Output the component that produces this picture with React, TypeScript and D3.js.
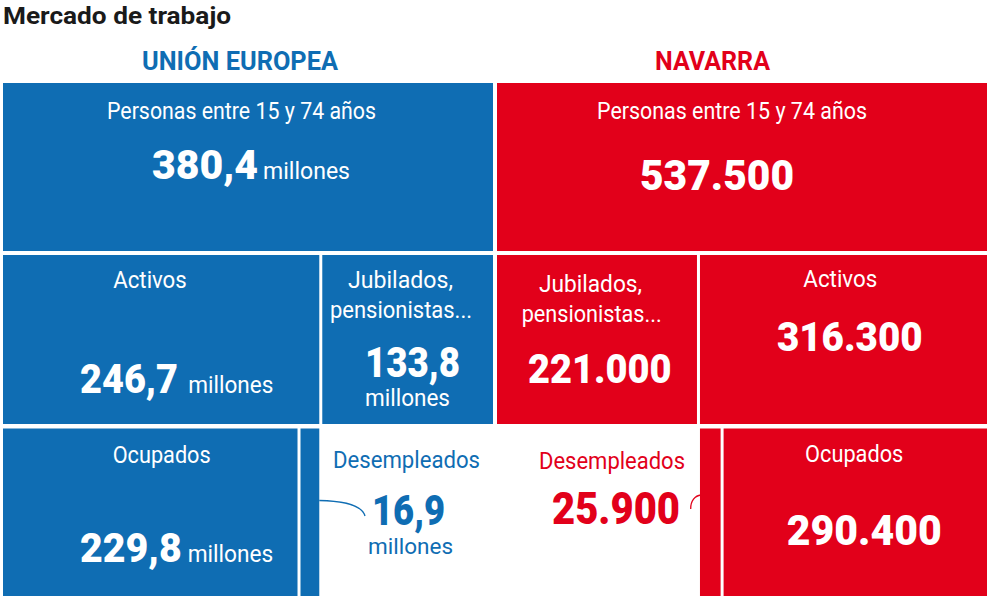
import React from "react";
import * as d3 from "d3";

// ---- Data ----
const regionNames = ["UNIÓN EUROPEA", "NAVARRA"];
const categoryNames = ["Personas entre 15 y 74 años", "Activos", "Jubilados, pensionistas...", "Ocupados", "Desempleados"];
const totalValues = [380.4, 537500];
const activosValues = [246.7, 316300];
const jubiladosValues = [133.8, 221000];
const ocupadosValues = [229.8, 290400];
const desempleadosValues = [16.9, 25900];
const unitLabels = ["millones", ""];
const chartTitle = "Mercado de trabajo";

const BLUE = "#0f6db3";
const RED = "#e2001a";
const FONT = "Roboto, 'Noto Sans', sans-serif";

const es = d3.formatLocale({ decimal: ",", thousands: ".", grouping: [3], currency: ["", "€"] });
const fmtEU = es.format(",.1f");
const fmtNA = es.format(",d");

type TProps = { x: number; y: number; w: number; size: number; weight?: number; fill?: string; anchor?: string; children: React.ReactNode };
const T = ({ x, y, w, size, weight = 400, fill = "#fff", anchor = "middle", children }: TProps) => (
  <text x={x} y={y} fontSize={size} fontWeight={weight} fill={fill} textAnchor={anchor as any}
    textLength={w} lengthAdjust="spacingAndGlyphs" fontFamily={FONT}>{children}</text>
);

export default function App() {
  const W = 990, H = 600;
  const gap = 3;
  const rows = [[83, 251], [255, 424], [428.5, 596]];
  const regionX = [[3, 493], [497, 987]];

  // EU layout
  const xEU = d3.scaleLinear().domain([0, totalValues[0]]).range(regionX[0]);
  const euActEnd = xEU(activosValues[0]);
  const xEUact = d3.scaleLinear().domain([0, activosValues[0]]).range([regionX[0][0], euActEnd]);
  const euOcuEnd = xEUact(ocupadosValues[0]);
  const euDesEnd = xEUact(ocupadosValues[0] + desempleadosValues[0]);

  // Navarra layout (jubilados first)
  const xNA = d3.scaleLinear().domain([0, totalValues[1]]).range(regionX[1]);
  const naJubEnd = xNA(jubiladosValues[1]);
  const xNAact = d3.scaleLinear().domain([0, activosValues[1]]).range([naJubEnd, regionX[1][1]]);
  const naDesEnd = xNAact(desempleadosValues[1]);

  const h = gap / 2;
  const rects = [
    { x0: xEU(0), x1: xEU(totalValues[0]), r: 0, c: BLUE },
    { x0: xEU(0), x1: euActEnd - h, r: 1, c: BLUE },
    { x0: euActEnd + h, x1: xEU(totalValues[0]), r: 1, c: BLUE },
    { x0: xEUact(0), x1: euOcuEnd - h, r: 2, c: BLUE },
    { x0: euOcuEnd + h, x1: euDesEnd - h, r: 2, c: BLUE },
    { x0: xNA(0), x1: xNA(totalValues[1]), r: 0, c: RED },
    { x0: xNA(0), x1: naJubEnd - h, r: 1, c: RED },
    { x0: naJubEnd + h, x1: xNA(totalValues[1]), r: 1, c: RED },
    { x0: xNAact(0) + h, x1: naDesEnd - h, r: 2, c: RED },
    { x0: naDesEnd + h, x1: xNAact(activosValues[1]), r: 2, c: RED },
  ];

  const y1 = rows[1][0], y2 = rows[2][0];
  const blueLink = `M${euDesEnd - h},500.5 C345,501 362,505 365,516`;
  const redLink = `M690.7,509 C690.5,501 695,495.5 ${xNAact(0) + h + 1},495`;

  return (
    <svg width={W} height={H} style={{ display: "block", position: "absolute", left: 0, top: 0 }}>
      <rect width={W} height={H} fill="#fff" />
      {rects.map((d, i) => (
        <rect key={i} x={d.x0} y={rows[d.r][0]} width={d.x1 - d.x0} height={rows[d.r][1] - rows[d.r][0]} fill={d.c} />
      ))}
      <path d={blueLink} fill="none" stroke={BLUE} strokeWidth={1.3} />
      <path d={redLink} fill="none" stroke={RED} strokeWidth={1.3} />

      <T x={3} y={23.5} w={228} size={24} weight={700} fill="#1a1a1a" anchor="start">{chartTitle}</T>
      <T x={240} y={70} w={196} size={25} weight={700} fill={BLUE}>{regionNames[0]}</T>
      <T x={712.5} y={70} w={115} size={25} weight={700} fill={RED}>{regionNames[1]}</T>

      {/* EU top */}
      <T x={241.5} y={119} w={269} size={23}>{categoryNames[0]}</T>
      <T x={152} y={178.5} w={106} size={41} weight={900} anchor="start">{fmtEU(totalValues[0])}</T>
      <T x={263} y={178.5} w={87} size={24}  anchor="start">{unitLabels[0]}</T>

      {/* NA top */}
      <T x={732} y={119} w={270} size={23}>{categoryNames[0]}</T>
      <T x={717} y={189.5} w={154} size={42} weight={900}>{fmtNA(totalValues[1])}</T>

      {/* EU activos */}
      <T x={150} y={y1 + 33.3} w={73.5} size={23}>{categoryNames[1]}</T>
      <T x={80} y={y1 + 138.3} w={98} size={41} weight={900} anchor="start">{fmtEU(activosValues[0])}</T>
      <T x={188.3} y={y1 + 138.3} w={85} size={24} anchor="start">{unitLabels[0]}</T>

      {/* EU jubilados */}
      <T x={400.5} y={y1 + 33.3} w={105} size={23}>{categoryNames[2].split(" ")[0]}</T>
      <T x={401} y={y1 + 63.3} w={142} size={23}>{categoryNames[2].split(" ")[1]}</T>
      <T x={412.5} y={y1 + 121.7} w={95} size={42} weight={900}>{fmtEU(jubiladosValues[0])}</T>
      <T x={407.5} y={y1 + 150.7} w={85} size={23}>{unitLabels[0]}</T>

      {/* EU ocupados */}
      <T x={161.7} y={y2 + 34.8} w={98} size={23}>{categoryNames[3]}</T>
      <T x={80} y={y2 + 133.2} w={101.7} size={41} weight={900} anchor="start">{fmtEU(ocupadosValues[0])}</T>
      <T x={187.7} y={y2 + 133.2} w={85.6} size={24} anchor="start">{unitLabels[0]}</T>

      {/* EU desempleados */}
      <T x={406.5} y={468} w={147} size={23} fill={BLUE}>{categoryNames[4]}</T>
      <T x={408.5} y={525} w={73} size={43} weight={900} fill={BLUE}>{fmtEU(desempleadosValues[0])}</T>
      <T x={410.5} y={553.5} w={85} size={22} fill={BLUE}>{unitLabels[0]}</T>

      {/* NA jubilados */}
      <T x={590.5} y={y1 + 37} w={103} size={23}>{categoryNames[2].split(" ")[0]}</T>
      <T x={591.7} y={y1 + 67} w={140} size={23}>{categoryNames[2].split(" ")[1]}</T>
      <T x={599.8} y={y1 + 128.3} w={143.7} size={41} weight={900}>{fmtNA(jubiladosValues[1])}</T>

      {/* NA activos */}
      <T x={840.3} y={y1 + 32.3} w={74} size={23}>{categoryNames[1]}</T>
      <T x={849.8} y={y1 + 95.7} w={145.7} size={40} weight={900}>{fmtNA(activosValues[1])}</T>

      {/* NA desempleados */}
      <T x={612} y={469} w={146} size={23} fill={RED}>{categoryNames[4]}</T>
      <T x={616} y={524} w={128} size={44} weight={900} fill={RED}>{fmtNA(desempleadosValues[1])}</T>

      {/* NA ocupados */}
      <T x={854.2} y={y2 + 33.8} w={98.3} size={23}>{categoryNames[3]}</T>
      <T x={864.2} y={y2 + 116.5} w={155} size={43} weight={900}>{fmtNA(ocupadosValues[1])}</T>
    </svg>
  );
}
